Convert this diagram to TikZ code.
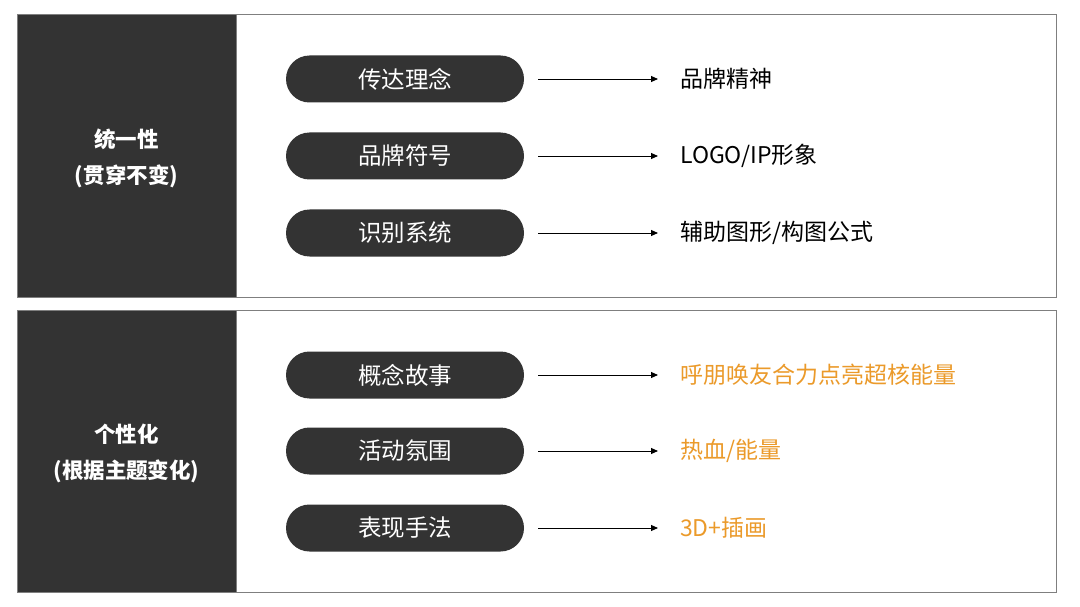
\documentclass[tikz,border=0pt]{standalone}
\usepackage{fontspec}
\setmainfont{Noto Sans CJK SC}
\usetikzlibrary{arrows.meta}
\definecolor{dark}{HTML}{333333}
\definecolor{frame}{HTML}{7F7F7F}
\definecolor{accent}{HTML}{EB9A2A}
\tikzset{
  panel/.style={draw=frame, line width=1pt, fill=white},
  side/.style={fill=dark, draw=frame, line width=1pt},
  sidelabel/.style={text=white, font=\fontsize{21.5}{36}\selectfont\bfseries, align=center},
  pill/.style={fill=dark, rounded corners=23.5pt, minimum width=238pt, minimum height=47pt, text=white, font=\fontsize{23.5}{26}\selectfont, inner sep=0pt},
  result/.style={anchor=west, font=\fontsize{23}{26}\selectfont, text=black, inner sep=0pt},
  hot/.style={result, text=accent},
  link/.style={-{Triangle[length=7pt,width=6pt]}, line width=0.9pt, black}
}
\begin{document}
\begin{tikzpicture}[x=1pt,y=-1pt]
\useasboundingbox (0,0) rectangle (1080,607);
% panels
\draw[panel] (17,15) rectangle (1056,297);
\draw[side] (17,15) rectangle (236,297);
\draw[panel] (17,310) rectangle (1056,592);
\draw[side] (17,310) rectangle (236,592);
\node[sidelabel] (l1) at (126.5,158) {统一性\\(贯穿不变)};
\node[sidelabel] (l2) at (126.5,453) {个性化\\(根据主题变化)};
% top rows
\node[pill] (p1) at (405,79) {传达理念};
\node[pill] (p2) at (405,156) {品牌符号};
\node[pill] (p3) at (405,233) {识别系统};
\node[result] (r1) at (680,79) {品牌精神};
\node[result] (r2) at (680,156) {LOGO/IP形象};
\node[result] (r3) at (680,233) {辅助图形/构图公式};
% bottom rows
\node[pill] (p4) at (405,375) {概念故事};
\node[pill] (p5) at (405,451) {活动氛围};
\node[pill] (p6) at (405,528) {表现手法};
\node[hot] (r4) at (680,375) {呼朋唤友合力点亮超核能量};
\node[hot] (r5) at (680,451) {热血/能量};
\node[hot] (r6) at (680,528) {3D+插画};
% connectors
\foreach \p/\r in {p1/r1,p2/r2,p3/r3,p4/r4,p5/r5,p6/r6}{
  \draw[link] ([xshift=14pt]\p.east) -- ([xshift=-22pt]\r.west);
}
\end{tikzpicture}
\end{document}
